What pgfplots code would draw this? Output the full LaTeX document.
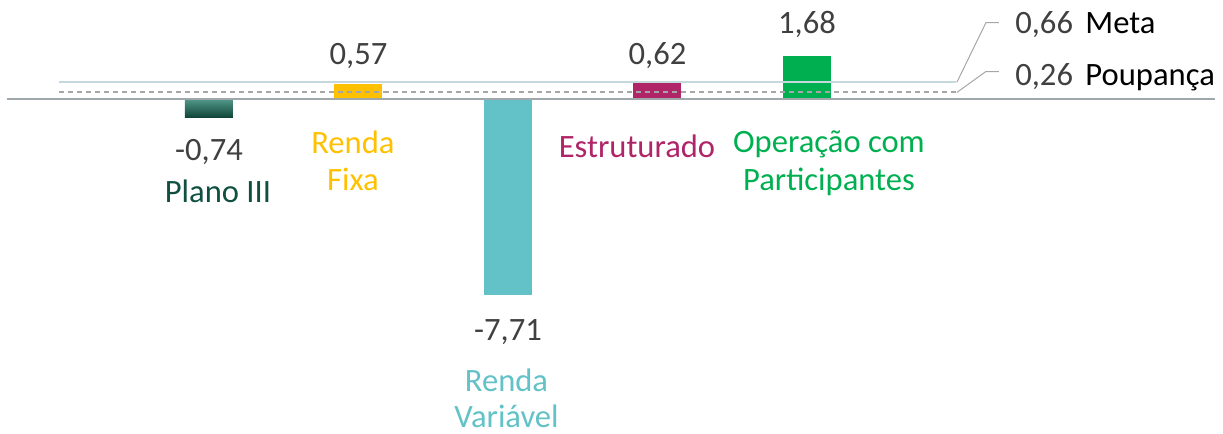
\documentclass[border=0pt]{standalone}
\usepackage{pgfplots}
\pgfplotsset{compat=1.18}
\usepackage{fontspec}
\setmainfont{Carlito}
\definecolor{planoT}{HTML}{52998A}
\definecolor{planoB}{HTML}{0E4236}
\definecolor{planoTxt}{HTML}{0F5040}
\definecolor{fixa}{HTML}{FFC000}
\definecolor{var}{HTML}{62C2C7}
\definecolor{estr}{HTML}{B02468}
\definecolor{oper}{HTML}{00B050}
\definecolor{meta}{HTML}{C4D8DE}
\definecolor{axisg}{HTML}{A0A8AC}
\definecolor{dashg}{HTML}{A6A6A6}
\definecolor{valtxt}{HTML}{404040}
\tikzset{lab/.style={inner sep=0pt, font=\fontsize{16.3}{19}\selectfont}}
\begin{document}
\begin{tikzpicture}
\begin{axis}[
  scale only axis, width=611.5pt, height=217pt,
  xmin=-1.398, xmax=6.783, ymin=-13.163, ymax=3.890,
  axis lines=none, ticks=none, clip=false,
]
\addplot[ybar, bar width=24pt, bar shift=0pt, draw=none, top color=planoT, bottom color=planoB] coordinates {(0,-0.74)};
\addplot[ybar, bar width=24pt, bar shift=0pt, draw=none, fill=fixa] coordinates {(1,0.57)};
\addplot[ybar, bar width=24pt, bar shift=0pt, draw=none, fill=var] coordinates {(2,-7.71)};
\addplot[ybar, bar width=24pt, bar shift=0pt, draw=none, fill=estr] coordinates {(3,0.62)};
\addplot[ybar, bar width=24pt, bar shift=0pt, draw=none, fill=oper] coordinates {(4,1.68)};
\addplot[no marks, color=axisg, line width=1.2pt] coordinates {(-1.351,0) (6.729,0)};
\addplot[no marks, color=meta, line width=1.3pt] coordinates {(-1,0.66) (5,0.66)};
\addplot[no marks, color=dashg, line width=0.9pt, dash pattern=on 2.5pt off 2pt] coordinates {(-1,0.26) (5,0.26)};
% leader lines
\draw[dashg, line width=0.5pt] (axis cs:5.003,0.66) -- (axis cs:5.197,2.998) -- (axis cs:5.284,2.998);
\draw[dashg, line width=0.5pt] (axis cs:5.003,0.26) -- (axis cs:5.197,1.080) -- (axis cs:5.284,1.080);
% value labels
\node[lab, anchor=base, text=valtxt] at (axis cs:0,-2.436) {-0,74};
\node[lab, anchor=base, text=valtxt] at (axis cs:1,1.375) {0,57};
\node[lab, anchor=base, text=valtxt] at (axis cs:2,-9.47) {-7,71};
\node[lab, anchor=base, text=valtxt] at (axis cs:3,1.375) {0,62};
\node[lab, anchor=base, text=valtxt] at (axis cs:4,2.593) {1,68};
% category labels
\node[lab, anchor=base, text=planoTxt] at (axis cs:0.06,-4.086) {Plano III};
\node[lab, anchor=base, text=fixa] at (axis cs:0.963,-2.122) {Renda};
\node[lab, anchor=base, text=fixa] at (axis cs:0.963,-3.576) {Fixa};
\node[lab, anchor=base, text=var] at (axis cs:1.99,-11.51) {Renda};
\node[lab, anchor=base, text=var] at (axis cs:1.99,-12.89) {Variável};
\node[lab, anchor=base, text=estr] at (axis cs:2.863,-2.318) {Estruturado};
\node[lab, anchor=base, text=oper] at (axis cs:4.147,-2.083) {Operação com};
\node[lab, anchor=base, text=oper] at (axis cs:4.147,-3.60) {Participantes};
% reference labels
\node[lab, anchor=base west, text=valtxt] at (axis cs:5.391,2.554) {0,66};
\node[lab, anchor=base west, text=black] at (axis cs:5.860,2.554) {Meta};
\node[lab, anchor=base west, text=valtxt] at (axis cs:5.391,0.523) {0,26};
\node[lab, anchor=base west, text=black] at (axis cs:5.860,0.523) {Poupança};
\end{axis}
\pgfresetboundingbox
\path[use as bounding box] (current axis.south west) rectangle (current axis.north east);
\end{tikzpicture}
\end{document}
